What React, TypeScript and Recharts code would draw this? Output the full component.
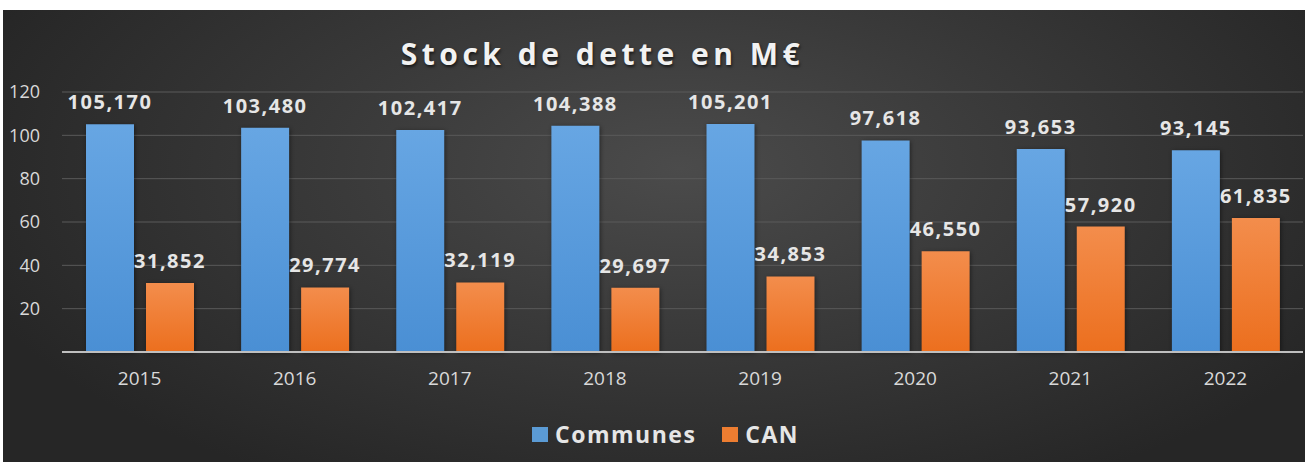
import React from 'react';
import { BarChart, Bar, XAxis, YAxis, CartesianGrid, LabelList, Legend } from 'recharts';

const years = ['2015', '2016', '2017', '2018', '2019', '2020', '2021', '2022'];
const communes = [105.17, 103.48, 102.417, 104.388, 105.201, 97.618, 93.653, 93.145];
const can = [31.852, 29.774, 32.119, 29.697, 34.853, 46.55, 57.92, 61.835];
const yTicks = [20, 40, 60, 80, 100, 120];

const series = [
  { key: 'Communes', color: '#5b9bd5', grad: 'gBlue' },
  { key: 'CAN', color: '#ed7d31', grad: 'gOrange' },
];

const data = years.map((year, i) => ({ year, Communes: communes[i], CAN: can[i] }));

// valeurs affichées à la française : 105,170
const fmt = (v: any) => Number(v).toFixed(3).replace('.', ',');

const LegendBox = () => (
  <div style={{ display: 'flex', alignItems: 'center', gap: 26 }}>
    {series.map((s) => (
      <div key={s.key} style={{ display: 'flex', alignItems: 'center', gap: 7 }}>
        <span style={{ width: 16, height: 15, background: s.color, display: 'inline-block' }} />
        <span style={{ color: '#e6e6e6', fontSize: 23, fontWeight: 700, letterSpacing: 1.5 }}>{s.key}</span>
      </div>
    ))}
  </div>
);

const App: React.FC = () => {
  return (
    <div
      style={{
        position: 'fixed',
        left: 0,
        top: 0,
        width: 1305,
        height: 462,
        background: '#fff',
        fontFamily: '"Open Sans", sans-serif',
        overflow: 'hidden',
      }}
    >
      <div
        style={{
          position: 'absolute',
          left: 3,
          top: 10,
          width: 1302,
          height: 452,
          background: 'radial-gradient(ellipse 58% 80% at 52% 35%, #4b4b4b 0%, #3a3a3a 45%, #262626 100%)',
        }}
      />
      <div
        style={{
          position: 'absolute',
          left: 0,
          top: 33,
          width: 1205,
          textAlign: 'center',
          color: '#f2f2f2',
          fontSize: 30,
          fontWeight: 700,
          letterSpacing: 4.5,
          textShadow: '1px 2px 3px rgba(0,0,0,0.6)',
        }}
      >
        Stock de dette en M€
      </div>
      <div style={{ position: 'absolute', left: 0, top: 0 }}>
        <BarChart
          width={1305}
          height={462}
          data={data}
          margin={{ top: 92, right: 2, bottom: 80, left: 0 }}
          barCategoryGap={24}
          barGap={12}
        >
          <defs>
            <linearGradient id="gBlue" x1="0" y1="0" x2="0" y2="1">
              <stop offset="0%" stopColor="#67a6e3" />
              <stop offset="100%" stopColor="#4a8fd4" />
            </linearGradient>
            <linearGradient id="gOrange" x1="0" y1="0" x2="0" y2="1">
              <stop offset="0%" stopColor="#f38d4c" />
              <stop offset="100%" stopColor="#ec6f1e" />
            </linearGradient>
          </defs>
          <CartesianGrid vertical={false} stroke="#5a5a5a" />
          <XAxis
            dataKey="year"
            height={30}
            tickLine={false}
            tickMargin={14}
            axisLine={{ stroke: '#bfbfbf', strokeWidth: 2 }}
            tick={{ fill: '#d9d9d9', fontSize: 19 }}
          />
          <YAxis
            width={62}
            domain={[0, 120]}
            ticks={yTicks}
            axisLine={false}
            tickLine={false}
            tickSize={0}
            tickMargin={22}
            tick={{ fill: '#d9d9d9', fontSize: 18 }}
          />
          <Legend
            verticalAlign="middle"
            align="center"
            content={<LegendBox />}
            wrapperStyle={{ top: 418, left: 532, width: 'auto' }}
          />
          {series.map((s) => (
            <Bar
              key={s.key}
              dataKey={s.key}
              fill={`url(#${s.grad})`}
              style={{ filter: 'drop-shadow(1px 1px 2px rgba(0,0,0,0.45))' }}
              isAnimationActive={false}
            >
              <LabelList
                dataKey={s.key}
                position="top"
                offset={15}
                formatter={fmt}
                fill="#e6e6e6"
                fontSize={20}
                fontWeight={700}
                style={{ letterSpacing: 1.5 }}
              />
            </Bar>
          ))}
        </BarChart>
      </div>
    </div>
  );
};

export default App;
